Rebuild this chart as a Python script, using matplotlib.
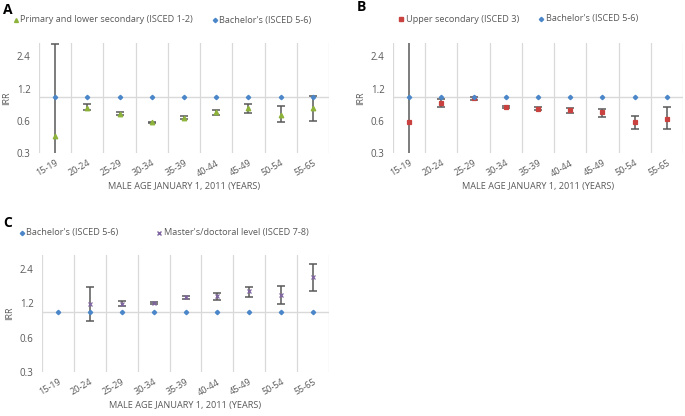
import numpy as np
import matplotlib.pyplot as plt

plt.rcParams['font.family'] = ['Open Sans', 'DejaVu Sans']

ages = ["15-19", "20-24", "25-29", "30-34", "35-39", "40-44", "45-49", "50-54", "55-65"]
bachelor = [1.0] * 9

# panel A: primary and lower secondary
prim = [0.43, 0.79, 0.70, 0.58, 0.64, 0.72, 0.79, 0.68, 0.79]
prim_lo = [0.2, 0.754, 0.68, 0.57, 0.62, 0.68, 0.71, 0.59, 0.60]
prim_hi = [3.15, 0.87, 0.72, 0.59, 0.66, 0.76, 0.87, 0.82, 1.03]

# panel B: upper secondary
upper = [0.59, 0.88, 0.97, 0.81, 0.78, 0.75, 0.72, 0.58, 0.63]
upper_lo = [0.2, 0.81, 0.94, 0.79, 0.75, 0.71, 0.65, 0.50, 0.50]
upper_hi = [5.0, 0.96, 1.00, 0.83, 0.80, 0.79, 0.77, 0.67, 0.80]

# panel C: master's / doctoral (no estimate for 15-19)
mast = [np.nan, 1.18, 1.19, 1.21, 1.36, 1.39, 1.54, 1.43, 2.05]
mast_lo = [np.nan, 0.84, 1.15, 1.18, 1.31, 1.30, 1.37, 1.19, 1.54]
mast_hi = [np.nan, 1.67, 1.26, 1.24, 1.40, 1.47, 1.68, 1.72, 2.68]

GRAY = '#595959'
GRID = '#D9D9D9'
BLUE = '#4A86C8'
GREEN = '#8DB33A'
RED = '#C9423F'
PURPLE = '#8064A2'

fig = plt.figure(figsize=(6.85, 4.16), dpi=100)


def setup(ax):
    x = np.arange(len(ages))
    ax.set_yscale('log')
    ax.set_ylim(0.3, 3.2)
    ax.set_xlim(-0.5, len(ages) - 0.5)
    ax.set_yticks([0.3, 0.6, 1.2, 2.4])
    ax.set_yticklabels(['0.3', '0.6', '1.2', '2.4'])
    ax.yaxis.set_minor_locator(plt.NullLocator())
    ax.set_xticks(x)
    ax.set_xticklabels(ages, rotation=30, ha='right', rotation_mode='anchor')
    ax.tick_params(axis='both', length=0, colors=GRAY)
    ax.tick_params(axis='y', labelsize=7, pad=6)
    ax.tick_params(axis='x', labelsize=6.5, pad=4)
    for s in ax.spines.values():
        s.set_visible(False)
    for b in np.arange(-0.5, len(ages), 1.0):
        ax.axvline(b, color=GRID, lw=0.9, zorder=0)
    ax.axhline(1.0, color=GRID, lw=1.0, zorder=0)
    ax.set_ylabel('IRR', color=GRAY, fontsize=6.5, labelpad=4)
    ax.set_xlabel('MALE AGE JANUARY 1, 2011 (YEARS)', color=GRAY, fontsize=6.6, labelpad=3)
    return x


def series(ax, x, y, lo, hi, marker, color, ms):
    y = np.array(y)
    err = np.vstack([y - np.array(lo), np.array(hi) - y])
    ax.errorbar(x, y, yerr=err, fmt='none', ecolor=GRAY, elinewidth=1.1,
                capsize=3, capthick=1.1, zorder=2)
    ax.plot(x, y, ls='none', marker=marker, color=color, ms=ms, zorder=3,
            markeredgewidth=0.9)


def legend_row(y, items):
    for (mx, tx, marker, color, ms, label) in items:
        fig.lines.append(plt.Line2D([mx / 685], [1 - y / 416], transform=fig.transFigure,
                                    marker=marker, color=color, ms=ms, ls='none'))
        fig.text(tx / 685, 1 - y / 416, label, color=GRAY, fontsize=6.6, va='center')


# A
axA = fig.add_axes([39 / 685, 1 - 153 / 416, 290 / 685, 110 / 416])
x = setup(axA)
series(axA, x, prim, prim_lo, prim_hi, '^', GREEN, 3.3)
axA.plot(x, bachelor, ls='none', marker='D', color=BLUE, ms=2.2, zorder=4)
fig.text(3 / 685, 1 - 10 / 416, 'A', fontsize=10, fontweight='bold', va='center')
legend_row(20, [(16, 20, '^', GREEN, 2.8, 'Primary and lower secondary (ISCED 1-2)'),
                (215, 219, 'D', BLUE, 2.2, "Bachelor's (ISCED 5-6)")])

# B
axB = fig.add_axes([393 / 685, 1 - 153 / 416, 290 / 685, 110 / 416])
x = setup(axB)
series(axB, x, upper, upper_lo, upper_hi, 's', RED, 3.3)
axB.plot(x, bachelor, ls='none', marker='D', color=BLUE, ms=2.2, zorder=4)
fig.text(357 / 685, 1 - 7 / 416, 'B', fontsize=10, fontweight='bold', va='center')
legend_row(19, [(401, 406, 's', RED, 2.8, 'Upper secondary (ISCED 3)'),
                (541, 546, 'D', BLUE, 2.2, "Bachelor's (ISCED 5-6)")])

# C
axC = fig.add_axes([42 / 685, 1 - 372 / 416, 287 / 685, 117 / 416])
x = setup(axC)
axC.plot(x, bachelor, ls='none', marker='D', color=BLUE, ms=2.2, zorder=4)
series(axC, x, mast, mast_lo, mast_hi, 'x', PURPLE, 2.8)
fig.text(3 / 685, 1 - 223 / 416, 'C', fontsize=10, fontweight='bold', va='center')
legend_row(233, [(22, 26, 'D', BLUE, 2.2, "Bachelor's (ISCED 5-6)"),
                 (159, 164, 'x', PURPLE, 2.6, "Master's/doctoral level (ISCED 7-8)")])

fig.savefig('out.png', dpi=100)
